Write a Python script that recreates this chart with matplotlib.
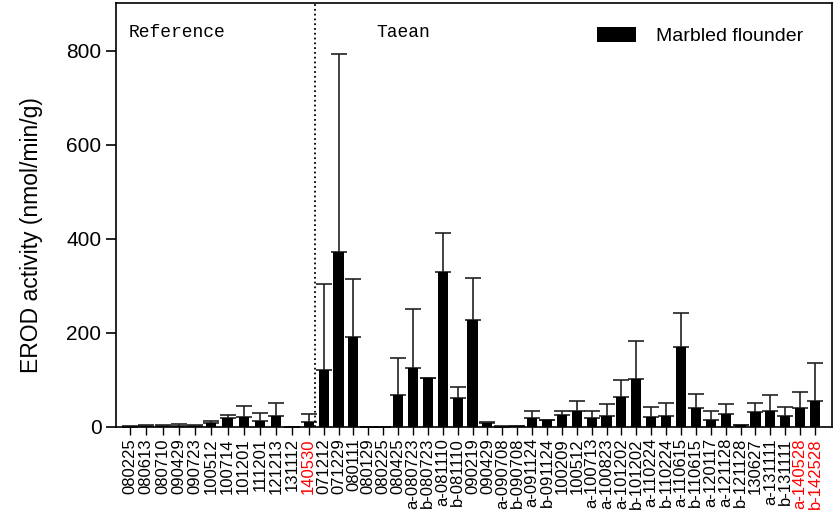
import numpy as np
import matplotlib
matplotlib.use('Agg')
import matplotlib.pyplot as plt

plt.rcParams['font.family'] = ['Liberation Sans', 'DejaVu Sans']

# sampling dates, reference site then Taean
ref_sites = ['080225', '080613', '080710', '090429', '090723', '100512',
             '100714', '101201', '111201', '121213', '131112', '140530']
taean_sites = ['071212', '071229', '080111', '080129', '080225', '080425',
               'a-080723', 'b-080723', 'a-081110', 'b-081110', '090219', '090429',
               'a-090708', 'b-090708', 'a-091124', 'b-091124', '100209', '100512',
               'a-100713', 'a-100823', 'a-101202', 'b-101202', 'a-110224', 'b-110224',
               'a-110615', 'b-110615', 'a-120117', 'a-121128', 'b-121128', '130627',
               'a-131111', 'b-131111', 'a-140528', 'b-142528']

# EROD activity means and SD
ref_mean = [1, 2, 3, 3, 3, 8.5, 20, 21, 12, 23, 0, 11]
ref_sd = [1, 3, 2, 3, 2, 4.5, 5, 23, 18, 27, 0, 17]
taean_mean = [121, 373, 192, 0, 0, 67, 125, 104, 330, 62, 228, 8,
              1, 3, 19, 14, 25, 35, 19, 23, 63, 102, 22, 23,
              170, 40, 15, 27, 4, 32, 34, 24, 40, 56]
taean_sd = [183, 421, 123, 0, 0, 79, 125, 0, 82, 24, 90, 3,
            1, 0, 14, 0, 8, 20, 14, 26, 36, 80, 20, 29,
            72, 31, 18, 22, 0, 20, 35, 18, 34, 80]

red_labels = ['140530', 'a-140528', 'b-142528']

# reference group is spread a little wider than the Taean group
ref_x = np.linspace(0, 12, len(ref_sites))
taean_x = np.arange(len(taean_sites)) + 13
x = np.concatenate([ref_x, taean_x])
labels = ref_sites + taean_sites
means = np.array(ref_mean + taean_mean)
sds = np.array(ref_sd + taean_sd)

fig = plt.figure(figsize=(8.36, 5.27), dpi=100)
ax = fig.add_axes([0.1388, 0.1898, 0.8564, 0.8045])

ax.bar(x, means, width=0.68, color='black', label='Marbled flounder', zorder=2)
ax.errorbar(x, means, yerr=[np.zeros_like(sds), sds], fmt='none',
            ecolor='#222222', elinewidth=1.2, capsize=5.8, capthick=1.2, zorder=1)

# split between reference site and Taean
ax.axvline(12.4, color='black', linestyle=':', linewidth=1.3)

ax.text(0.017, 0.93, 'Reference', transform=ax.transAxes, fontsize=13,
        family='Liberation Mono', va='center')
ax.text(0.363, 0.93, 'Taean', transform=ax.transAxes, fontsize=13,
        family='Liberation Mono', va='center')

ax.set_xlim(-0.94, taean_x[-1] + 1.14)
ax.set_ylim(0, 902)
ax.set_yticks([0, 200, 400, 600, 800])
ax.set_xticks(x)
ax.set_xticklabels(labels, rotation=90, fontsize=12)
for lab in ax.get_xticklabels():
    if lab.get_text() in red_labels:
        lab.set_color('red')
ax.tick_params(axis='y', labelsize=15, length=7, width=1.2, direction='out')
ax.tick_params(axis='x', length=6, width=1, pad=2)
ax.set_ylabel('EROD activity (nmol/min/g)', fontsize=16.5)
ax.yaxis.set_label_coords(-0.102, 0.453)
for s in ax.spines.values():
    s.set_linewidth(1.2)

ax.legend(loc='upper right', bbox_to_anchor=(0.984, 0.985), frameon=False,
          fontsize=14, handlelength=2.0, handleheight=0.8, handletextpad=1.0)

fig.savefig('out.png', dpi=100)
